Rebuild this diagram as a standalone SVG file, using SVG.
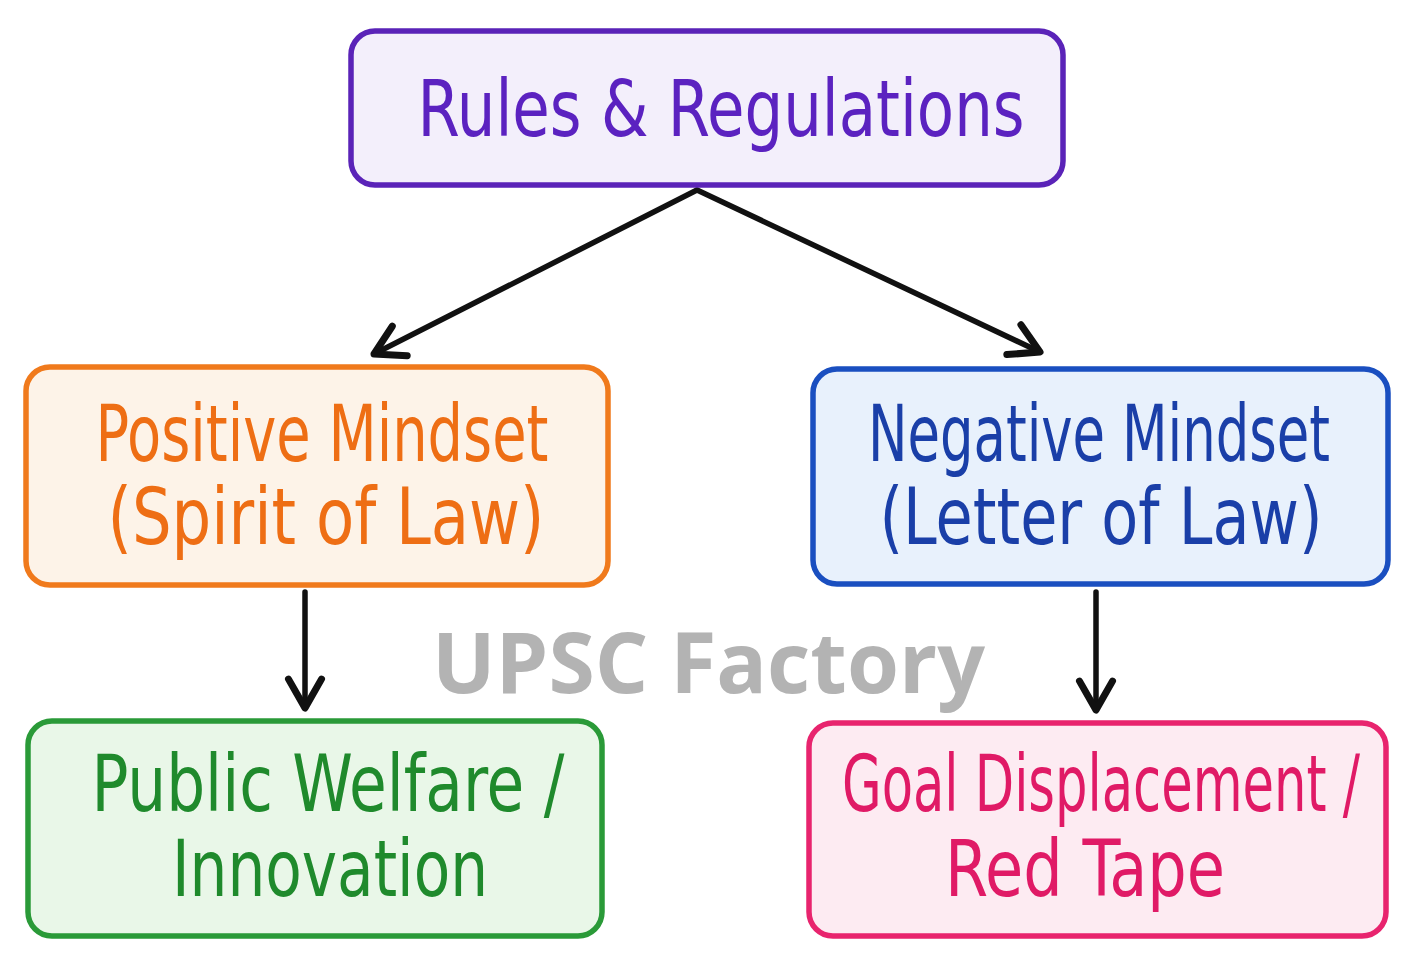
<svg xmlns="http://www.w3.org/2000/svg" width="1414" height="961" viewBox="0 0 1414 961">
<defs>
<style>
.box{stroke-width:5.5;stroke-linejoin:round}
.lbl{font-family:"Liberation Sans Narrow","DejaVu Sans Condensed","Liberation Sans",sans-serif;font-size:78px;text-anchor:middle}
.conn{fill:none;stroke:#111;stroke-width:5.5;stroke-linecap:round;stroke-linejoin:round}
.wm{font-family:"Open Sans","Noto Sans",sans-serif;font-weight:700;font-size:84px;fill:#b3b3b3}
</style>
<marker id="ah" viewBox="0 0 20 20" refX="17" refY="10" markerWidth="7.5" markerHeight="7.5" markerUnits="strokeWidth" orient="auto">
<path d="M3,2 L17,10 L3,18" fill="none" stroke="#111" stroke-width="3.4" stroke-linecap="round" stroke-linejoin="round"/>
</marker>
</defs>
<rect width="1414" height="961" fill="#ffffff"/>
<g id="connectors">
<path class="conn" d="M697,190 L374,354" marker-end="url(#ah)"/>
<path class="conn" d="M697,190 L1040,352" marker-end="url(#ah)"/>
<path class="conn" d="M305,592 L305,708" marker-end="url(#ah)"/>
<path class="conn" d="M1096,592 L1096,710" marker-end="url(#ah)"/>
</g>
<g id="rules">
<rect class="box" x="351" y="31" width="712" height="154" rx="24" fill="#f3effb" stroke="#5a23b8"/>
<text class="lbl" x="721" y="136" fill="#5b22c0" font-size="88" textLength="607" lengthAdjust="spacingAndGlyphs">Rules &amp; Regulations</text>
</g>
<g id="positive">
<rect class="box" x="26" y="367" width="582" height="218" rx="24" fill="#fdf3e8" stroke="#f07a1c"/>
<text class="lbl" x="322" y="461" fill="#ee6e14" textLength="453" lengthAdjust="spacingAndGlyphs">Positive Mindset</text>
<text class="lbl" x="326" y="544" fill="#ee6e14" textLength="437" lengthAdjust="spacingAndGlyphs">(Spirit of Law)</text>
</g>
<g id="negative">
<rect class="box" x="813" y="369" width="575" height="215" rx="24" fill="#e8f1fc" stroke="#1a4fc0"/>
<text class="lbl" x="1099" y="461" fill="#1a3fa8" textLength="462" lengthAdjust="spacingAndGlyphs">Negative Mindset</text>
<text class="lbl" x="1101" y="544" fill="#1a3fa8" textLength="443" lengthAdjust="spacingAndGlyphs">(Letter of Law)</text>
</g>
<g id="welfare">
<rect class="box" x="28" y="721" width="574" height="215" rx="24" fill="#e9f7e8" stroke="#2a9a38"/>
<text class="lbl" x="328" y="811" fill="#1f8a2c" textLength="473" lengthAdjust="spacingAndGlyphs">Public Welfare /</text>
<text class="lbl" x="330" y="896" fill="#1f8a2c" textLength="316" lengthAdjust="spacingAndGlyphs">Innovation</text>
</g>
<g id="goal">
<rect class="box" x="809" y="723" width="577" height="213" rx="24" fill="#fdebf2" stroke="#e8246e"/>
<text class="lbl" x="1101" y="811" fill="#e01a66" textLength="518" lengthAdjust="spacingAndGlyphs">Goal Displacement /</text>
<text class="lbl" x="1085" y="896" fill="#e01a66" textLength="280" lengthAdjust="spacingAndGlyphs">Red Tape</text>
</g>
<text class="wm" x="432" y="693" textLength="553" lengthAdjust="spacingAndGlyphs">UPSC Factory</text>
</svg>
